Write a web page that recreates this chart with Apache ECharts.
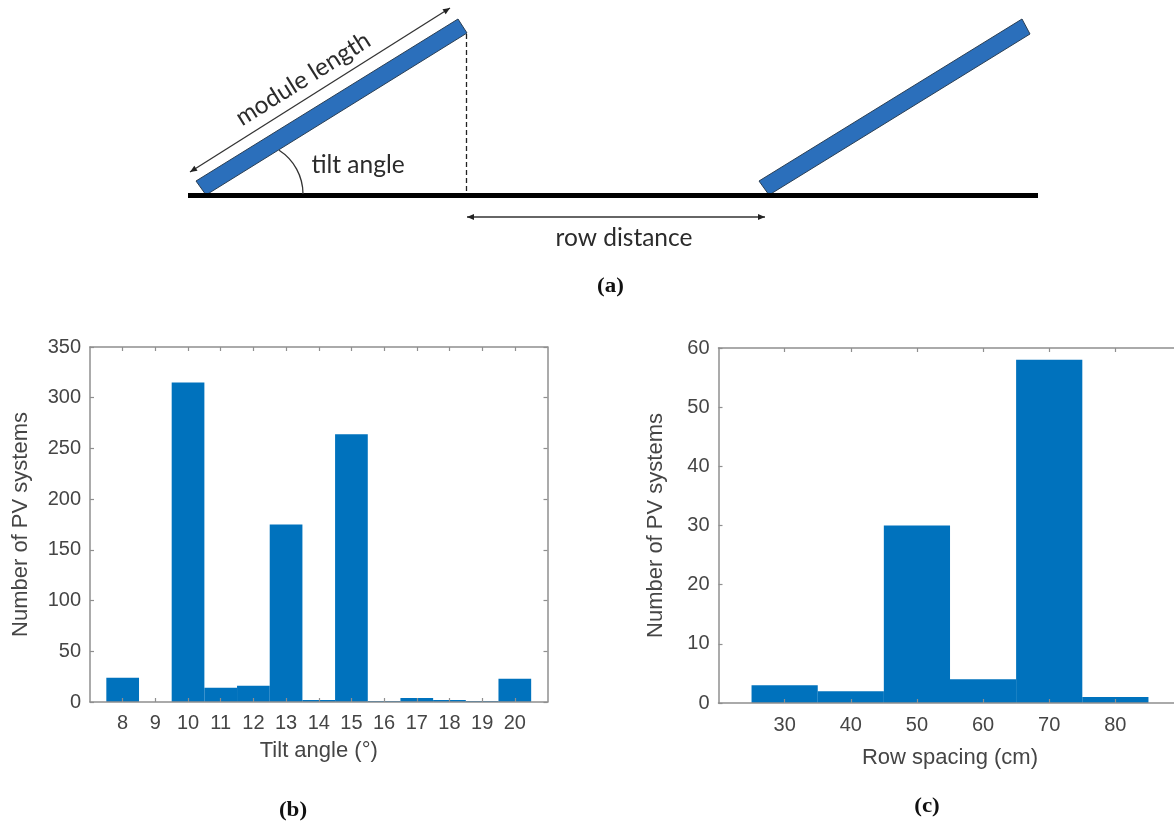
<!DOCTYPE html>
<html>
<head>
<meta charset="utf-8">
<style>html,body{margin:0;padding:0;background:#fff}#c{width:1174px;height:825px}</style>
<script src="https://cdn.jsdelivr.net/npm/echarts@6/dist/echarts.min.js"></script>
</head>
<body>
<div id="c"></div>
<script>
var tiltAngles = [8, 9, 10, 11, 12, 13, 14, 15, 16, 17, 18, 19, 20];
var tiltCounts = [24, 0, 315, 14, 16, 175, 2, 264, 1, 4, 2, 1, 23];
var rowSpacings = [30, 40, 50, 60, 70, 80];
var rowCounts = [3, 2, 30, 4, 58, 1];

var BLUE = '#0072BD', PANEL = '#2B6FBB', AXIS = '#8f8f8f', TEXT = '#454545';
var SANS = '"Liberation Sans", Arial, sans-serif';
var SERIF = '"Liberation Serif", "Times New Roman", serif';
var CAL = 'Lato, "Open Sans", sans-serif';

var chart = echarts.init(document.getElementById('c'), null, {renderer: 'canvas'});

function pairs(xs, ys) { return xs.map(function (x, i) { return [x, ys[i]]; }); }

function xAxes(gridIndex, min, max, ticks, name, gap, margin) {
  var line = {show: true, onZero: false, lineStyle: {color: AXIS, width: 1.5}};
  var tick = {show: true, inside: true, length: 4, customValues: ticks, lineStyle: {color: AXIS, width: 1.2}};
  return [{
    type: 'value', gridIndex: gridIndex, min: min, max: max, position: 'bottom', z: 5,
    axisLine: line, axisTick: tick, splitLine: {show: false},
    axisLabel: {customValues: ticks, color: TEXT, fontFamily: SANS, fontSize: 20, margin: margin},
    name: name, nameLocation: 'middle', nameGap: gap,
    nameTextStyle: {color: TEXT, fontFamily: SANS, fontSize: 22}
  }, {
    type: 'value', gridIndex: gridIndex, min: min, max: max, position: 'top', z: 5,
    axisLine: line, axisTick: tick, splitLine: {show: false}, axisLabel: {show: false}
  }];
}
function yAxes(gridIndex, max, interval, name, gap) {
  var line = {show: true, onZero: false, lineStyle: {color: AXIS, width: 1.5}};
  var tick = {show: true, inside: true, length: 4, lineStyle: {color: AXIS, width: 1.2}};
  return [{
    type: 'value', gridIndex: gridIndex, min: 0, max: max, interval: interval, position: 'left', z: 5,
    axisLine: line, axisTick: tick, splitLine: {show: false},
    axisLabel: {color: TEXT, fontFamily: SANS, fontSize: 20, margin: 9},
    name: name, nameLocation: 'middle', nameGap: gap,
    nameTextStyle: {color: TEXT, fontFamily: SANS, fontSize: 22}
  }, {
    type: 'value', gridIndex: gridIndex, min: 0, max: max, interval: interval, position: 'right', z: 5,
    axisLine: line, axisTick: tick, splitLine: {show: false}, axisLabel: {show: false}
  }];
}

function arrow(x1, y1, x2, y2) {
  var a = Math.atan2(y2 - y1, x2 - x1), L = 7, W = 3;
  function head(x, y, d) {
    var c = Math.cos(a) * d, s = Math.sin(a) * d;
    return {type: 'polygon', silent: true, shape: {points: [
      [x, y],
      [x - L * c - W * s * d, y - L * s + W * c * d],
      [x - L * c + W * s * d, y - L * s - W * c * d]
    ]}, style: {fill: '#222'}};
  }
  return [
    {type: 'line', silent: true, shape: {x1: x1, y1: y1, x2: x2, y2: y2}, style: {stroke: '#333', lineWidth: 1.3}},
    head(x2, y2, 1), head(x1, y1, -1)
  ];
}
function label(text, x, y, font, size, extra) {
  extra = extra || {};
  var el = {type: 'text', silent: true, x: x, y: y, style: {
    text: text, fill: extra.fill || '#2b2b2b', font: (extra.weight || 'normal') + ' ' + size + 'px ' + font,
    align: 'center', verticalAlign: 'middle'
  }};
  if (extra.rotation) el.rotation = extra.rotation;
  if (extra.scaleX) el.scaleX = extra.scaleX;
  return el;
}
var capOpts = {weight: 'bold', fill: '#111', scaleX: 1.15};
var diagram = [
  {type: 'line', silent: true, shape: {x1: 466.5, y1: 34, x2: 466.5, y2: 194}, style: {stroke: '#222', lineWidth: 1.3, lineDash: [5, 3]}},
  {type: 'polygon', silent: true, shape: {points: [[196, 181], [458, 19], [467, 33], [206, 195]]}, style: {fill: PANEL, stroke: '#2a3f55', lineWidth: 1}},
  {type: 'polygon', silent: true, shape: {points: [[759, 181], [1022, 19], [1030, 34], [769, 195]]}, style: {fill: PANEL, stroke: '#2a3f55', lineWidth: 1}},
  {type: 'rect', silent: true, shape: {x: 188, y: 193, width: 850, height: 5}, style: {fill: '#000'}},
  {type: 'arc', silent: true, shape: {cx: 251, cy: 194, r: 52, startAngle: -1.0, endAngle: 0, clockwise: true}, style: {stroke: '#333', lineWidth: 1.3, fill: null}},
  label('module length', 303, 79, CAL, 24.5, {rotation: 0.56}),
  label('tilt angle', 358, 165, CAL, 24.5),
  label('row distance', 624, 238, CAL, 24.5),
  label('(a)', 610.5, 287, SERIF, 20, capOpts),
  label('(b)', 293, 811, SERIF, 20, capOpts),
  label('(c)', 927, 807, SERIF, 20, capOpts)
].concat(arrow(190, 172, 450, 8)).concat(arrow(467, 217, 765, 217));

var xb = xAxes(0, 7, 21, tiltAngles, 'Tilt angle (°)', 38, 11);
var xc = xAxes(1, 20, 90, rowSpacings, 'Row spacing (cm)', 44, 12);
var yb = yAxes(0, 350, 50, 'Number of PV systems', 58);
var yc = yAxes(1, 60, 10, 'Number of PV systems', 52);

chart.setOption({
  animation: false,
  backgroundColor: '#fff',
  grid: [
    {left: 90, top: 347, width: 457.5, height: 355, outerBoundsMode: 'none'},
    {left: 718.5, top: 348, width: 463, height: 355, outerBoundsMode: 'none'}
  ],
  xAxis: xb.concat(xc),
  yAxis: yb.concat(yc),
  series: [
    {type: 'bar', xAxisIndex: 0, yAxisIndex: 0, barWidth: 32.7, data: pairs(tiltAngles, tiltCounts), itemStyle: {color: BLUE}},
    {type: 'bar', xAxisIndex: 2, yAxisIndex: 2, barWidth: 66.2, data: pairs(rowSpacings, rowCounts), itemStyle: {color: BLUE}}
  ],
  graphic: {elements: diagram}
});
</script>
</body>
</html>
